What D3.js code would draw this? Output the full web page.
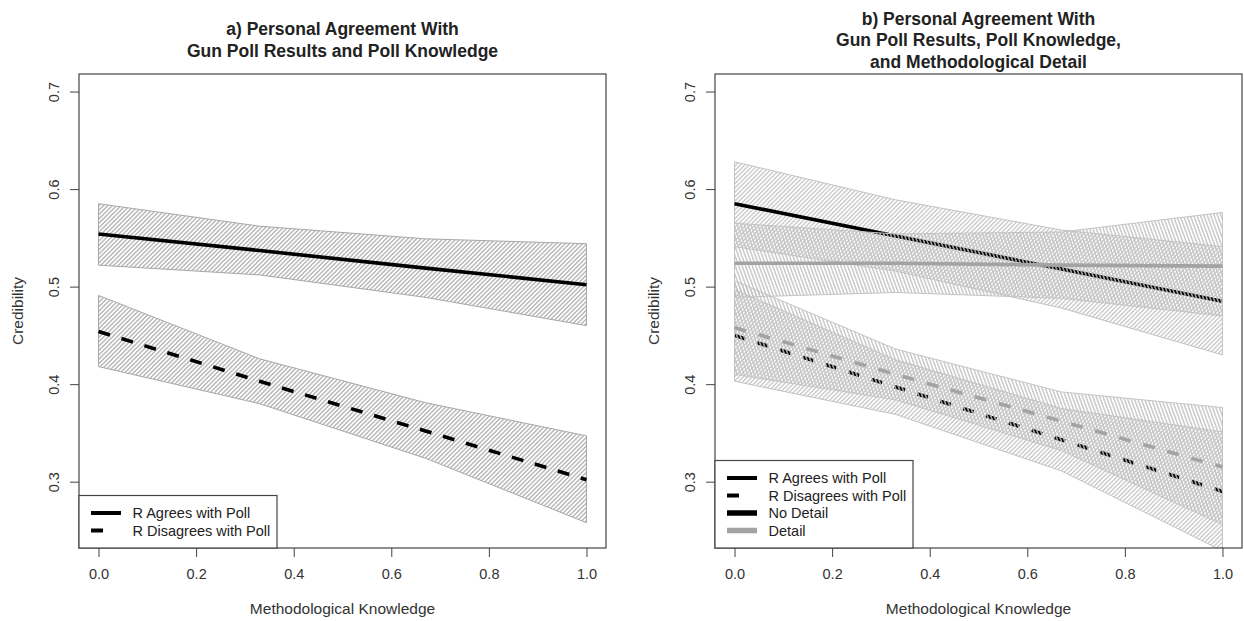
<!DOCTYPE html>
<html>
<head>
<meta charset="utf-8">
<script src="https://cdn.jsdelivr.net/npm/d3@7/dist/d3.min.js"></script>
<style>
  body { margin: 0; background: #fff; }
  svg { display: block; font-family: "Liberation Sans", Arial, sans-serif; }
</style>
</head>
<body>
<div id="chart"></div>
<script>
// x positions where fits and bounds were evaluated
const knots = [0, 0.33, 0.67, 1];
const xTicks = [0, 0.2, 0.4, 0.6, 0.8, 1.0];
const yTicks = [0.3, 0.4, 0.5, 0.6, 0.7];

// panel a
const aAgreeFit = [0.554, 0.537, 0.519, 0.502];
const aAgreeLo  = [0.522, 0.512, 0.489, 0.460];
const aAgreeHi  = [0.585, 0.562, 0.549, 0.544];
const aDisFit   = [0.454, 0.403, 0.352, 0.302];
const aDisLo    = [0.418, 0.380, 0.324, 0.258];
const aDisHi    = [0.491, 0.426, 0.381, 0.347];

// panel b, no detail
const bAgreeNoFit = [0.585, 0.552, 0.518, 0.485];
const bAgreeNoLo  = [0.541, 0.516, 0.478, 0.430];
const bAgreeNoHi  = [0.628, 0.589, 0.558, 0.541];
const bDisNoFit   = [0.450, 0.397, 0.343, 0.290];
const bDisNoLo    = [0.403, 0.369, 0.311, 0.229];
const bDisNoHi    = [0.497, 0.425, 0.375, 0.351];
// panel b, detail
const bAgreeDetFit = [0.524, 0.524, 0.522, 0.521];
const bAgreeDetLo  = [0.489, 0.494, 0.488, 0.470];
const bAgreeDetHi  = [0.565, 0.554, 0.556, 0.576];
const bDisDetFit   = [0.458, 0.410, 0.362, 0.315];
const bDisDetLo    = [0.410, 0.384, 0.332, 0.256];
const bDisDetHi    = [0.506, 0.436, 0.392, 0.376];

const titleA = ["a) Personal Agreement With", "Gun Poll Results and Poll Knowledge"];
const titleB = ["b) Personal Agreement With", "Gun Poll Results, Poll Knowledge,", "and Methodological Detail"];
const legendA = ["R Agrees with Poll", "R Disagrees with Poll"];
const legendB = ["R Agrees with Poll", "R Disagrees with Poll", "No Detail", "Detail"];

const W = 1244, H = 621;
const plotTop = 74, plotBottom = 548;
const grey = "#a3a3a3";

const svg = d3.select("#chart").append("svg").attr("width", W).attr("height", H);
const defs = svg.append("defs");

function hatch(id, angle, color, gap, sw) {
  const p = defs.append("pattern")
    .attr("id", id)
    .attr("patternUnits", "userSpaceOnUse")
    .attr("width", gap).attr("height", 20)
    .attr("patternTransform", `rotate(${angle})`);
  p.append("line")
    .attr("x1", gap / 2).attr("y1", 0)
    .attr("x2", gap / 2).attr("y2", 20)
    .attr("stroke", color).attr("stroke-width", sw);
}
hatch("hA", 45, "#8c8c8c", 3.1, 0.9);
hatch("hNo", 45, "#b4b4b4", 3.1, 1);
hatch("hDet", -20, "#c2c2c2", 3.2, 1.3);

function drawPanel(p) {
  const x = d3.scaleLinear().domain([-0.04, 1.04]).range([p.left, p.right]);
  const y = d3.scaleLinear().domain([0.232, 0.718]).range([plotBottom, plotTop]);
  const g = svg.append("g");

  const clipId = "clip" + p.id;
  defs.append("clipPath").attr("id", clipId)
    .append("rect")
    .attr("x", p.left).attr("y", plotTop)
    .attr("width", p.right - p.left).attr("height", plotBottom - plotTop);

  const plot = g.append("g").attr("clip-path", `url(#${clipId})`);

  const area = d3.area()
    .x((d) => x(d.x))
    .y0((d) => y(d.lo))
    .y1((d) => y(d.hi));
  const line = d3.line()
    .x((d) => x(d.x))
    .y((d) => y(d.v));

  p.layers.forEach((L) => {
    if (L.type === "band") {
      const pts = knots.map((k, i) => ({ x: k, lo: L.lo[i], hi: L.hi[i] }));
      plot.append("path")
        .attr("d", area(pts))
        .attr("fill", `url(#${L.pattern})`)
        .attr("stroke", L.stroke)
        .attr("stroke-width", 1);
    } else {
      const pts = knots.map((k, i) => ({ x: k, v: L.fit[i] }));
      plot.append("path")
        .attr("d", line(pts))
        .attr("fill", "none")
        .attr("stroke", L.color)
        .attr("stroke-width", L.width)
        .attr("stroke-dasharray", L.dash || null);
    }
  });

  // box
  g.append("rect")
    .attr("x", p.left).attr("y", plotTop)
    .attr("width", p.right - p.left).attr("height", plotBottom - plotTop)
    .attr("fill", "none").attr("stroke", "#444").attr("stroke-width", 1.2);

  // x axis
  const xa = g.append("g").attr("transform", `translate(0,${plotBottom})`)
    .call(d3.axisBottom(x).tickValues(xTicks).tickFormat(d3.format(".1f"))
      .tickSize(9).tickPadding(12));
  xa.select(".domain").remove();
  xa.selectAll("line").attr("stroke", "#444");
  xa.selectAll("text").attr("font-size", 14.5).attr("fill", "#333")
    .attr("font-family", "Liberation Sans, Arial, sans-serif");

  // y axis
  const ya = g.append("g").attr("transform", `translate(${p.left},0)`)
    .call(d3.axisLeft(y).tickValues(yTicks).tickFormat(d3.format(".1f")).tickSize(9));
  ya.select(".domain").remove();
  ya.selectAll("line").attr("stroke", "#444");
  ya.selectAll("text").remove();
  ya.selectAll(".tick").append("text")
    .attr("transform", `translate(${-25},0) rotate(-90)`)
    .attr("text-anchor", "middle")
    .attr("dy", "0.35em")
    .attr("font-size", 14.5).attr("fill", "#333")
    .attr("font-family", "Liberation Sans, Arial, sans-serif")
    .text(d3.format(".1f"));

  // axis titles
  g.append("text")
    .attr("x", (p.left + p.right) / 2).attr("y", 609)
    .attr("text-anchor", "middle").attr("dy", "0.35em")
    .attr("font-size", 15.5).attr("fill", "#333")
    .text("Methodological Knowledge");
  g.append("text")
    .attr("transform", `translate(${p.left - 61},${(plotTop + plotBottom) / 2}) rotate(-90)`)
    .attr("text-anchor", "middle").attr("dy", "0.35em")
    .attr("font-size", 15.5).attr("fill", "#333")
    .text("Credibility");

  // title, centred in the top margin
  const lh = 21.5;
  const cy = 40 - ((p.title.length - 1) * lh) / 2;
  g.append("g").selectAll("text").data(p.title).join("text")
    .attr("x", (p.left + p.right) / 2)
    .attr("y", (d, i) => cy + i * lh)
    .attr("dy", "0.35em")
    .attr("text-anchor", "middle")
    .attr("font-weight", "bold")
    .attr("font-size", 17.5).attr("fill", "#222")
    .text((d) => d);

  // legend
  const rowH = 17.5;
  const lgH = rowH * (p.legend.length + 1);
  const lg = g.append("g").attr("transform", `translate(${p.left},${plotBottom - lgH})`);
  lg.append("rect")
    .attr("width", 198).attr("height", lgH)
    .attr("fill", "#fff").attr("stroke", "#444").attr("stroke-width", 1.2);
  p.legend.forEach((lab, i) => {
    const s = p.legendStyle[i];
    const yy = rowH * (i + 1);
    lg.append("line")
      .attr("x1", 12).attr("x2", 42).attr("y1", yy).attr("y2", yy)
      .attr("stroke", s.color).attr("stroke-width", s.width)
      .attr("stroke-dasharray", s.dash || null);
    lg.append("text")
      .attr("x", 53.5).attr("y", yy).attr("dy", "0.35em")
      .attr("font-size", 14.5).attr("fill", "#222")
      .text(lab);
  });
}

drawPanel({
  id: "A", left: 79, right: 606, title: titleA,
  layers: [
    { type: "band", lo: aAgreeLo, hi: aAgreeHi, pattern: "hA", stroke: "#a8a8a8" },
    { type: "band", lo: aDisLo, hi: aDisHi, pattern: "hA", stroke: "#a8a8a8" },
    { type: "line", fit: aAgreeFit, color: "#000", width: 3.6 },
    { type: "line", fit: aDisFit, color: "#000", width: 3.6, dash: "12,12" }
  ],
  legend: legendA,
  legendStyle: [
    { color: "#000", width: 4 },
    { color: "#000", width: 4, dash: "12,40" }
  ]
});

// no-detail layers go first so the detail hatching lies over the black lines
drawPanel({
  id: "B", left: 715, right: 1242, title: titleB,
  layers: [
    { type: "band", lo: bAgreeNoLo, hi: bAgreeNoHi, pattern: "hNo", stroke: "#c4c4c4" },
    { type: "band", lo: bDisNoLo, hi: bDisNoHi, pattern: "hNo", stroke: "#c4c4c4" },
    { type: "line", fit: bAgreeNoFit, color: "#000", width: 3.6 },
    { type: "line", fit: bDisNoFit, color: "#000", width: 3.6, dash: "11,13" },
    { type: "band", lo: bAgreeDetLo, hi: bAgreeDetHi, pattern: "hDet", stroke: "#c4c4c4" },
    { type: "band", lo: bDisDetLo, hi: bDisDetHi, pattern: "hDet", stroke: "#c4c4c4" },
    { type: "line", fit: bAgreeDetFit, color: grey, width: 3.6 },
    { type: "line", fit: bDisDetFit, color: grey, width: 3.6, dash: "12,13" }
  ],
  legend: legendB,
  legendStyle: [
    { color: "#000", width: 4 },
    { color: "#000", width: 4, dash: "12,40" },
    { color: "#000", width: 5.5 },
    { color: grey, width: 5.5 }
  ]
});
</script>
</body>
</html>
